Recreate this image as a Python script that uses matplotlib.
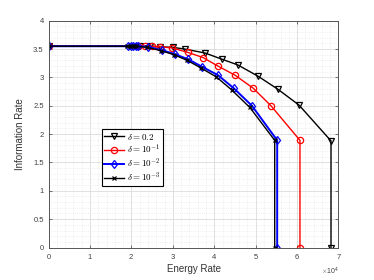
import matplotlib
matplotlib.use('Agg')
import matplotlib.pyplot as plt
from matplotlib.ticker import MultipleLocator, ScalarFormatter, FuncFormatter

plt.rcParams['font.family'] = ['Liberation Sans', 'DejaVu Sans']
plt.rcParams['mathtext.fontset'] = 'cm'

# energy rate (x1e4) and information rate for each delta
x_02 = [0, 2.21, 2.45, 2.69, 3.00, 3.29, 3.78, 4.19, 4.57, 5.06, 5.54, 6.05, 6.82, 6.82]
y_02 = [3.55, 3.55, 3.55, 3.54, 3.53, 3.50, 3.43, 3.32, 3.22, 3.02, 2.79, 2.51, 1.88, 0]

x_01 = [0, 2.16, 2.33, 2.50, 2.69, 2.98, 3.37, 3.73, 4.09, 4.50, 4.94, 5.37, 6.07, 6.07]
y_01 = [3.55, 3.55, 3.55, 3.55, 3.54, 3.52, 3.44, 3.35, 3.20, 3.04, 2.81, 2.50, 1.89, 0]

x_001 = [0, 1.92, 1.98, 2.04, 2.10, 2.16, 2.40, 2.74, 3.05, 3.37, 3.70, 4.09, 4.47, 4.91, 5.52, 5.52]
y_001 = [3.55, 3.55, 3.55, 3.55, 3.55, 3.55, 3.54, 3.48, 3.41, 3.32, 3.19, 3.04, 2.81, 2.50, 1.89, 0]

x_0001 = [0, 1.90, 1.96, 2.02, 2.07, 2.12, 2.38, 2.72, 3.03, 3.35, 3.67, 4.05, 4.42, 4.86, 5.46, 5.46]
y_0001 = [3.55, 3.55, 3.55, 3.55, 3.55, 3.55, 3.53, 3.47, 3.40, 3.30, 3.17, 3.01, 2.78, 2.47, 1.89, 0]

labels = [r'$\delta = 0.2$', r'$\delta = 10^{-1}$', r'$\delta = 10^{-2}$', r'$\delta = 10^{-3}$']

fig = plt.figure(figsize=(3.74, 2.8), dpi=100)
ax = fig.add_axes([0.13, 0.116, 0.775, 0.81])

s = 1e4
ax.plot([v * s for v in x_02], y_02, color='black', lw=1, marker='v', ms=4.5,
        mfc='none', mew=0.9, label=labels[0])
ax.plot([v * s for v in x_01], y_01, color='red', lw=1, marker='o', ms=4.5,
        mfc='none', mew=0.9, label=labels[1])
ax.plot([v * s for v in x_001], y_001, color='blue', lw=1.4, marker='d', ms=4.5,
        mfc='none', mew=0.9, label=labels[2])
ax.plot([v * s for v in x_0001], y_0001, color='black', lw=1, marker='x', ms=3.5,
        mew=0.9, label=labels[3])

ax.set_xlim(0, 7e4)
ax.set_ylim(0, 4)
ax.xaxis.set_major_locator(MultipleLocator(1e4))
ax.xaxis.set_minor_locator(MultipleLocator(2e3))
ax.yaxis.set_major_locator(MultipleLocator(0.5))
ax.yaxis.set_minor_locator(MultipleLocator(0.1))
fmt = ScalarFormatter(useMathText=True)
fmt.set_powerlimits((0, 0))
ax.xaxis.set_major_formatter(fmt)
ax.yaxis.set_major_formatter(FuncFormatter(lambda v, p: '%g' % v))
ax.xaxis.get_offset_text().set_fontsize(5)
ax.xaxis.get_offset_text().set_color('#404040')

ax.grid(which='major', color='#dcdcdc', lw=0.6)
ax.grid(which='minor', color='#e4e4e4', lw=0.5, ls=':')
ax.set_axisbelow(True)
ax.tick_params(which='both', direction='in', top=True, right=True,
               labelsize=5.5, colors='#404040', length=2.5, width=0.5)
ax.tick_params(which='minor', length=0)
for sp in ax.spines.values():
    sp.set_color('#555555')
    sp.set_linewidth(0.7)

ax.set_xlabel('Energy Rate', fontsize=7, color='#333333', labelpad=2)
ax.set_ylabel('Information Rate', fontsize=7, color='#333333', labelpad=6)

leg = ax.legend(loc='lower left', bbox_to_anchor=(0.185, 0.27), fontsize=6.5,
                fancybox=False, edgecolor='black', framealpha=1,
                handlelength=2.2, handletextpad=0.3, borderpad=0.25,
                labelspacing=0.1, borderaxespad=0)
leg.get_frame().set_linewidth(0.8)

fig.savefig('out.png', dpi=100)
